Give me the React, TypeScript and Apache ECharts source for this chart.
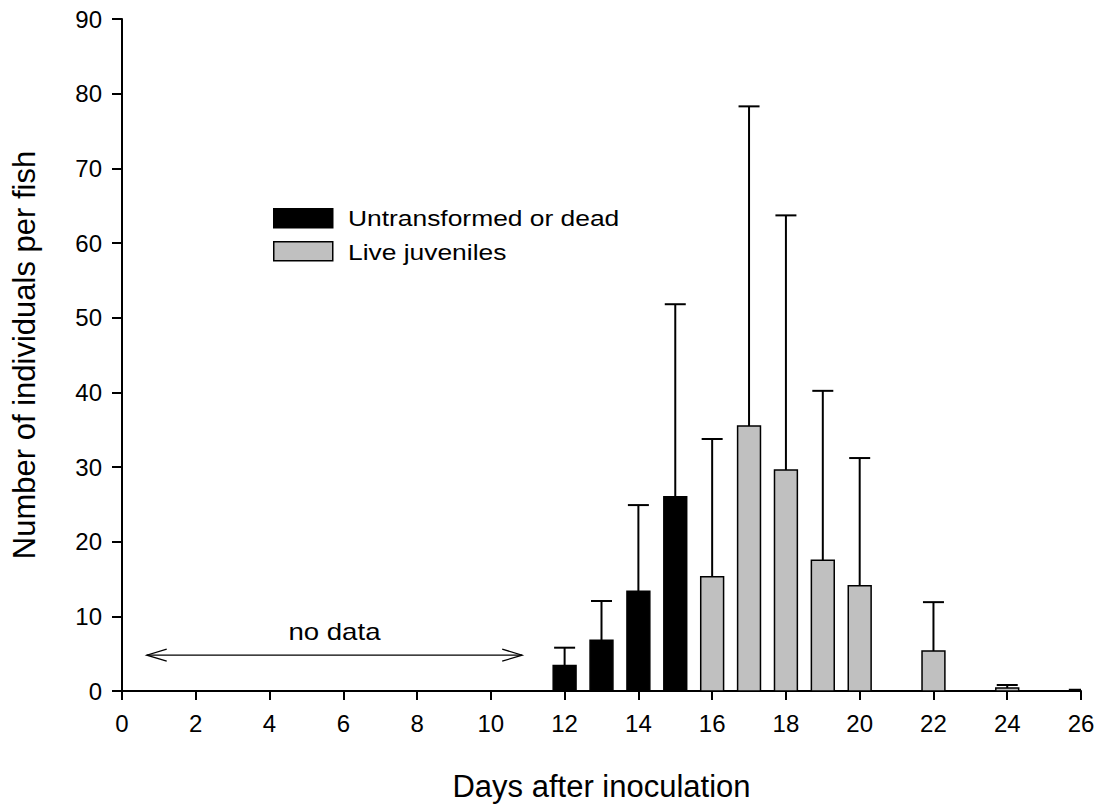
import React, { useEffect, useRef } from "react";
import * as echarts from "echarts";

// Untransformed or dead glochidia: day, mean, mean + SD
const untransformedDays = [12, 13, 14, 15];
const untransformedMeans = [3.4, 6.8, 13.35, 26.0];
const untransformedUpper = [5.8, 12.05, 24.9, 51.8];

// Live juveniles: day, mean, mean + SD
const juvenileDays = [16, 17, 18, 19, 20, 22, 24, 26];
const juvenileMeans = [15.3, 35.5, 29.6, 17.5, 14.1, 5.35, 0.4, 0.2];
const juvenileUpper = [33.75, 78.3, 63.7, 40.2, 31.2, 11.9, 0.8, 0.2];

// Span with no observations (days) and its height on the y axis
const noDataSpan = [0.67, 10.85];
const noDataLevel = 4.8;

const xRange = [0, 26, 2];
const yRange = [0, 90, 10];

const legendLabels = ["Untransformed or dead", "Live juveniles"];

const FONT = '"Liberation Sans", Arial, Helvetica, sans-serif';
const BAR_WIDTH = 0.62; // in days
const CAP_HALF = 10.5; // px
const TEXT_STRETCH = 1.2; // horizontal stretch of annotation text

function makeBarRenderer(fill: string) {
  return (params: any, api: any) => {
    const x = api.value(0);
    const y = api.value(1);
    const up = api.value(2);
    const left = api.coord([x - BAR_WIDTH / 2, 0]);
    const right = api.coord([x + BAR_WIDTH / 2, y]);
    const mid = api.coord([x, y]);
    const top = api.coord([x, up]);
    const children: any[] = [];
    if (up > y) {
      children.push({
        type: "line",
        shape: { x1: mid[0], y1: mid[1], x2: top[0], y2: top[1] },
        style: { stroke: "#000", lineWidth: 2 },
      });
      children.push({
        type: "line",
        shape: { x1: mid[0] - CAP_HALF, y1: top[1], x2: mid[0] + CAP_HALF, y2: top[1] },
        style: { stroke: "#000", lineWidth: 2 },
      });
    }
    children.push({
      type: "rect",
      shape: {
        x: left[0],
        y: right[1],
        width: right[0] - left[0],
        height: left[1] - right[1],
      },
      style: { fill, stroke: "#000", lineWidth: 1.5 },
    });
    return { type: "group", children };
  };
}

function renderNoData(params: any, api: any) {
  const a = api.coord([api.value(0), api.value(2)]);
  const b = api.coord([api.value(1), api.value(2)]);
  const head = 20;
  const spread = 6;
  const stroke = { stroke: "#000", lineWidth: 1.2, fill: "none" };
  return {
    type: "group",
    children: [
      { type: "line", shape: { x1: a[0], y1: a[1], x2: b[0], y2: b[1] }, style: stroke },
      {
        type: "polyline",
        shape: { points: [[a[0] + head, a[1] - spread], [a[0], a[1]], [a[0] + head, a[1] + spread]] },
        style: stroke,
      },
      {
        type: "polyline",
        shape: { points: [[b[0] - head, b[1] - spread], [b[0], b[1]], [b[0] - head, b[1] + spread]] },
        style: stroke,
      },
      {
        type: "text",
        x: (a[0] + b[0]) / 2,
        y: a[1] - 12,
        scaleX: TEXT_STRETCH,
        style: {
          text: "no data",
          fontSize: 23,
          fontFamily: FONT,
          fill: "#000",
          align: "center",
          verticalAlign: "bottom",
        },
      },
    ],
  };
}

export default function App() {
  const ref = useRef<HTMLDivElement>(null);

  useEffect(() => {
    if (!ref.current) return;
    const chart = echarts.init(ref.current, undefined, { renderer: "svg" });

    const untransformedData = untransformedDays.map((d, i) => [d, untransformedMeans[i], untransformedUpper[i]]);
    const juvenileData = juvenileDays.map((d, i) => [d, juvenileMeans[i], juvenileUpper[i]]);

    const axisText = { color: "#000", fontSize: 24, fontFamily: FONT };
    const titleText = { color: "#000", fontSize: 31, fontFamily: FONT };

    chart.setOption({
      animation: false,
      backgroundColor: "#fff",
      grid: {
        left: 122,
        right: 19,
        top: 19,
        bottom: 115,
        containLabel: false,
        outerBoundsMode: "none",
      },
      xAxis: {
        type: "value",
        min: xRange[0],
        max: xRange[1],
        interval: xRange[2],
        name: "Days after inoculation",
        nameLocation: "middle",
        nameGap: 80,
        nameTextStyle: titleText,
        axisLine: { show: true, lineStyle: { color: "#000", width: 2 } },
        axisTick: { show: true, length: 9, lineStyle: { color: "#000", width: 2 } },
        axisLabel: { ...axisText, margin: 20 },
        splitLine: { show: false },
      },
      yAxis: {
        type: "value",
        min: yRange[0],
        max: yRange[1],
        interval: yRange[2],
        name: "Number of individuals per fish",
        nameLocation: "middle",
        nameGap: 82,
        nameTextStyle: titleText,
        axisLine: { show: true, lineStyle: { color: "#000", width: 2 } },
        axisTick: { show: true, length: 10, lineStyle: { color: "#000", width: 2 } },
        axisLabel: { ...axisText, margin: 20 },
        splitLine: { show: false },
      },
      series: [
        {
          type: "custom",
          name: legendLabels[0],
          renderItem: makeBarRenderer("#000000"),
          encode: { x: 0, y: [1, 2] },
          data: untransformedData,
          clip: true,
          z: 3,
        },
        {
          type: "custom",
          name: legendLabels[1],
          renderItem: makeBarRenderer("#c0c0c0"),
          encode: { x: 0, y: [1, 2] },
          data: juvenileData,
          clip: true,
          z: 3,
        },
        {
          type: "custom",
          name: "no data",
          renderItem: renderNoData,
          encode: { x: [0, 1], y: 2 },
          data: [[noDataSpan[0], noDataSpan[1], noDataLevel]],
          z: 2,
        },
      ],
      graphic: [
        {
          type: "rect",
          left: 273,
          top: 208,
          shape: { width: 59, height: 19 },
          style: { fill: "#000", stroke: "#000", lineWidth: 1.5 },
        },
        {
          type: "text",
          x: 348,
          y: 218,
          scaleX: TEXT_STRETCH,
          style: {
            text: legendLabels[0],
            fontSize: 22,
            fontFamily: FONT,
            fill: "#000",
            verticalAlign: "middle",
          },
        },
        {
          type: "rect",
          left: 273,
          top: 241,
          shape: { width: 59, height: 19 },
          style: { fill: "#c0c0c0", stroke: "#000", lineWidth: 1.5 },
        },
        {
          type: "text",
          x: 348,
          y: 252,
          scaleX: TEXT_STRETCH,
          style: {
            text: legendLabels[1],
            fontSize: 22,
            fontFamily: FONT,
            fill: "#000",
            verticalAlign: "middle",
          },
        },
      ],
    });

    return () => chart.dispose();
  }, []);

  return (
    <div
      ref={ref}
      style={{ position: "fixed", left: 0, top: 0, width: 1100, height: 806, background: "#fff" }}
    />
  );
}
